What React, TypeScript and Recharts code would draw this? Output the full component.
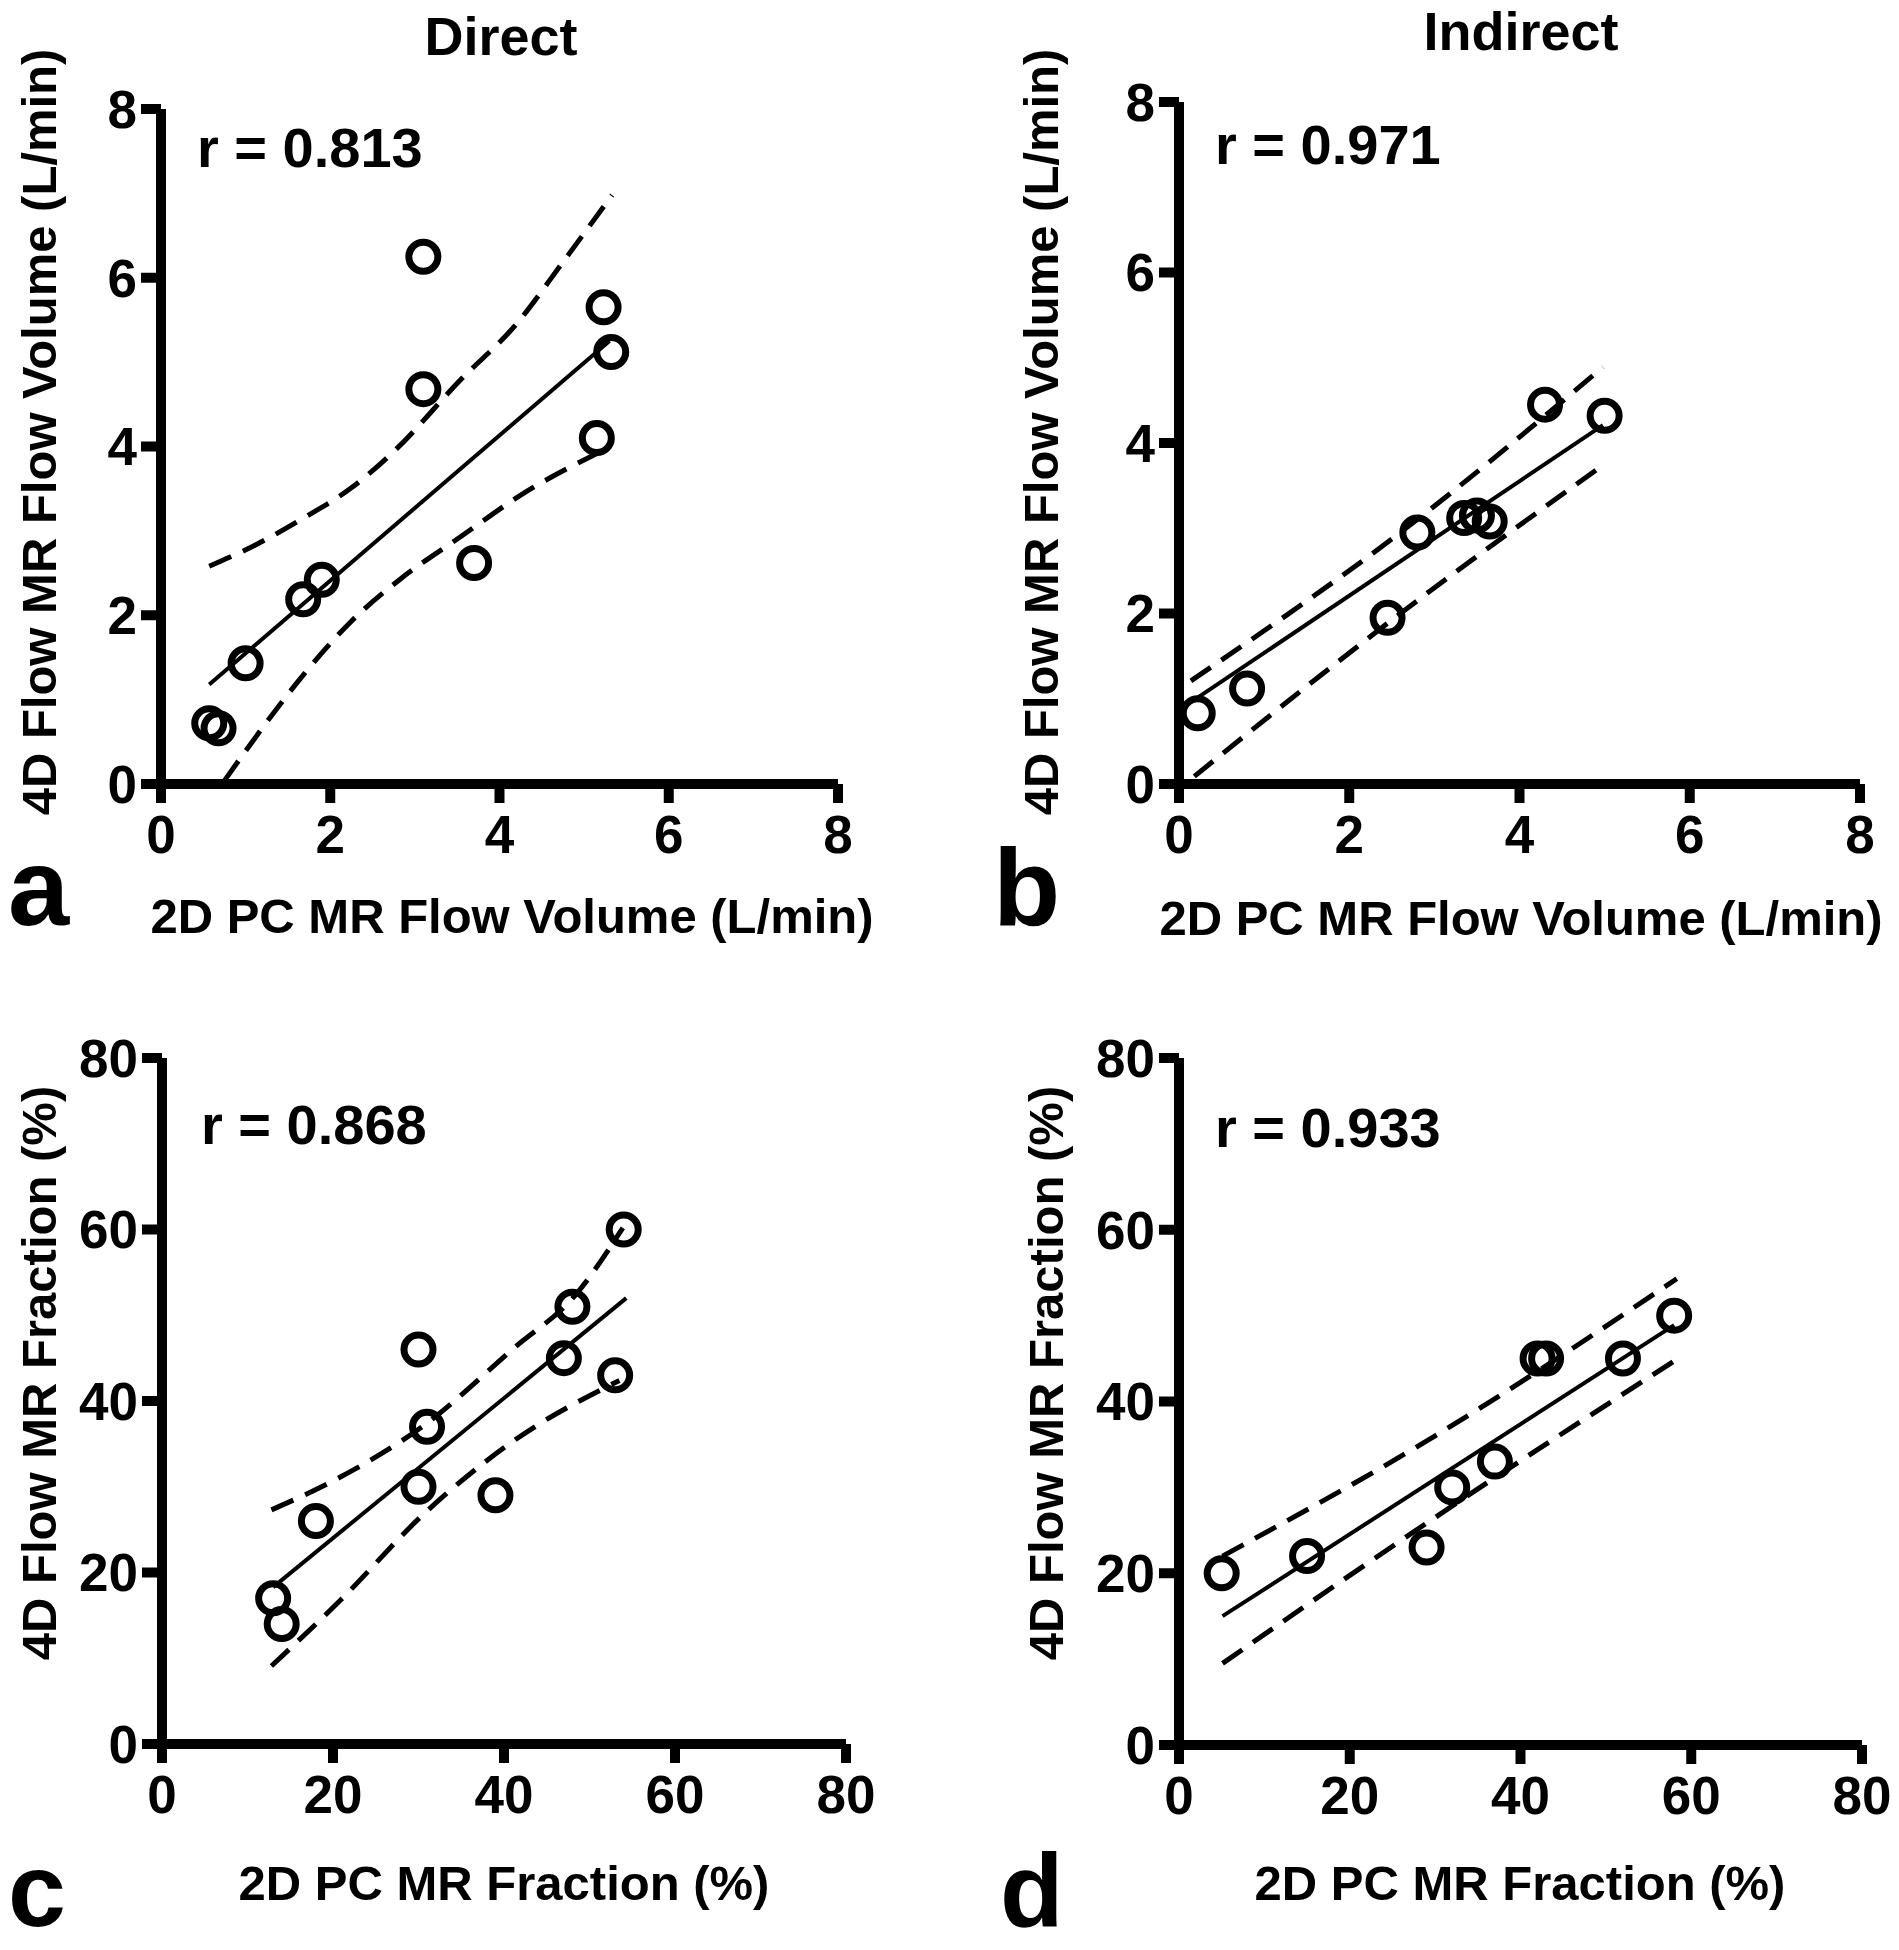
import React from 'react';
import { ComposedChart, Scatter, Line, XAxis, YAxis } from 'recharts';

const FONT = '"Liberation Sans", Arial, Helvetica, sans-serif';
const INK = '#000';

// ---------- Panel a: Direct, flow volume (L/min) ----------
const volDirect2D = [3.1, 5.23, 5.32, 3.1, 5.15, 3.7, 1.9, 1.68, 1.0, 0.57, 0.68];
const volDirect4D = [6.25, 5.65, 5.12, 4.68, 4.1, 2.62, 2.42, 2.19, 1.43, 0.72, 0.66];
const volDirectFitX = [0.57, 5.3];
const volDirectFitY = [1.18, 5.25];
const volDirectUpperX = [0.57, 1.11, 1.68, 2.25, 2.75, 3.54, 4.19, 4.76, 5.33];
const volDirectUpperY = [2.58, 2.83, 3.15, 3.51, 3.94, 4.79, 5.44, 6.2, 6.98];
const volDirectLowerX = [0.75, 1.18, 1.68, 2.25, 2.83, 3.54, 4.26, 5.26];
const volDirectLowerY = [0.04, 0.64, 1.29, 1.93, 2.43, 2.93, 3.43, 3.97];

// ---------- Panel b: Indirect, flow volume (L/min) ----------
const volIndirect2D = [0.22, 0.8, 2.45, 2.8, 3.35, 3.5, 3.65, 4.3, 5.0];
const volIndirect4D = [0.83, 1.12, 1.95, 2.95, 3.12, 3.15, 3.08, 4.45, 4.32];
const volIndirectFitX = [0.11, 4.98];
const volIndirectFitY = [0.94, 4.21];
const volIndirectUpperX = [0.14, 2.6, 4.98];
const volIndirectUpperY = [1.21, 2.95, 4.89];
const volIndirectLowerX = [0.18, 2.6, 4.98];
const volIndirectLowerY = [0.09, 2.0, 3.74];

// ---------- Panel c: Direct, MR fraction (%) ----------
const fracDirect2D = [54, 48, 47, 53, 30, 31, 30, 39, 18, 13, 14];
const fracDirect4D = [60, 51, 45, 43, 46, 37, 30, 29, 26, 17, 14];
const fracDirectFitX = [13, 54.3];
const fracDirectFitY = [18.3, 52];
const fracDirectUpperX = [12.8, 20.8, 30.7, 41.2, 48.3, 53.9];
const fracDirectUpperY = [27.3, 31.1, 37.2, 46.2, 52.3, 60.2];
const fracDirectLowerX = [12.8, 20.8, 30.7, 41.2, 53.5];
const fracDirectLowerY = [9.1, 16.7, 26.9, 35.4, 42.4];

// ---------- Panel d: Indirect, MR fraction (%) ----------
const fracIndirect2D = [5, 15, 29, 32, 37, 42, 43, 52, 58];
const fracIndirect4D = [20, 22, 23, 30, 33, 45, 45, 45, 50];
const fracIndirectFitX = [5.1, 58];
const fracIndirectFitY = [15, 48.9];
const fracIndirectUpperX = [5.1, 30, 58.3];
const fracIndirectUpperY = [22, 36, 54.3];
const fracIndirectLowerX = [5.1, 30, 58.3];
const fracIndirectLowerY = [9.5, 26.5, 44.9];

// ---------- axes / text ----------
const volTicks = [0, 2, 4, 6, 8];
const fracTicks = [0, 20, 40, 60, 80];
const volXLabel = '2D PC MR Flow Volume (L/min)';
const volYLabel = '4D Flow MR Flow Volume (L/min)';
const fracXLabel = '2D PC MR Fraction (%)';
const fracYLabel = '4D Flow MR Fraction (%)';
const titles = ['Direct', 'Indirect'];
const rValues = ['r = 0.813', 'r = 0.971', 'r = 0.868', 'r = 0.933'];
const panelLetters = ['a', 'b', 'c', 'd'];

const zip = (xs: number[], ys: number[]) => xs.map((x, i) => ({ x, y: ys[i] }));

const OpenCircle = (props: any) => {
  const { cx, cy } = props;
  if (cx == null || cy == null) return null;
  return <circle cx={cx} cy={cy} r={14.5} fill="none" stroke={INK} strokeWidth={7} />;
};

const XH = 80;

type Cfg = {
  box: { x: number; y: number; w: number; h: number };
  plot: { l: number; t: number; r: number; b: number };
  domain: [number, number];
  ticks: number[];
  points: { x: number; y: number }[];
  fit: { x: number; y: number }[];
  upper: { x: number; y: number }[];
  lower: { x: number; y: number }[];
  xLabel: string;
  yLabel: string;
  xLab: [number, number];
  yLab: [number, number];
};

const panels: Cfg[] = [
  {
    box: { x: 0, y: 0, w: 950, h: 975 },
    plot: { l: 161, t: 109, r: 838, b: 784 },
    domain: [0, 8],
    ticks: volTicks,
    points: zip(volDirect2D, volDirect4D),
    fit: zip(volDirectFitX, volDirectFitY),
    upper: zip(volDirectUpperX, volDirectUpperY),
    lower: zip(volDirectLowerX, volDirectLowerY),
    xLabel: volXLabel,
    yLabel: volYLabel,
    xLab: [512, 933],
    yLab: [56, 432],
  },
  {
    box: { x: 950, y: 0, w: 949, h: 975 },
    plot: { l: 1179, t: 102, r: 1860, b: 784 },
    domain: [0, 8],
    ticks: volTicks,
    points: zip(volIndirect2D, volIndirect4D),
    fit: zip(volIndirectFitX, volIndirectFitY),
    upper: zip(volIndirectUpperX, volIndirectUpperY),
    lower: zip(volIndirectLowerX, volIndirectLowerY),
    xLabel: volXLabel,
    yLabel: volYLabel,
    xLab: [571, 935],
    yLab: [108, 432],
  },
  {
    box: { x: 0, y: 975, w: 950, h: 975 },
    plot: { l: 162, t: 1058, r: 846, b: 1744 },
    domain: [0, 80],
    ticks: fracTicks,
    points: zip(fracDirect2D, fracDirect4D),
    fit: zip(fracDirectFitX, fracDirectFitY),
    upper: zip(fracDirectUpperX, fracDirectUpperY),
    lower: zip(fracDirectLowerX, fracDirectLowerY),
    xLabel: fracXLabel,
    yLabel: fracYLabel,
    xLab: [504, 925],
    yLab: [56, 398],
  },
  {
    box: { x: 950, y: 975, w: 949, h: 975 },
    plot: { l: 1179, t: 1058, r: 1862, b: 1745 },
    domain: [0, 80],
    ticks: fracTicks,
    points: zip(fracIndirect2D, fracIndirect4D),
    fit: zip(fracIndirectFitX, fracIndirectFitY),
    upper: zip(fracIndirectUpperX, fracIndirectUpperY),
    lower: zip(fracIndirectLowerX, fracIndirectLowerY),
    xLabel: fracXLabel,
    yLabel: fracYLabel,
    xLab: [570, 925],
    yLab: [113, 398],
  },
];

const tickStyle = { fill: INK, fontSize: 53, fontWeight: 700, fontFamily: FONT };
const axisStroke = { stroke: INK, strokeWidth: 10 };

function Panel({ cfg }: { cfg: Cfg }) {
  const { box, plot } = cfg;
  const margin = {
    top: plot.t - box.y,
    right: box.x + box.w - plot.r,
    left: 0,
    bottom: box.y + box.h - plot.b - XH,
  };
  const xLabelFn = () => (
    <text
      x={cfg.xLab[0]}
      y={cfg.xLab[1]}
      textAnchor="middle"
      fontFamily={FONT}
      fontWeight={700}
      fontSize={49}
      fill={INK}
    >
      {cfg.xLabel}
    </text>
  );
  const yLabelFn = () => (
    <text
      transform={`translate(${cfg.yLab[0]},${cfg.yLab[1]}) rotate(-90)`}
      x={0}
      y={0}
      textAnchor="middle"
      fontFamily={FONT}
      fontWeight={700}
      fontSize={49}
      fill={INK}
    >
      {cfg.yLabel}
    </text>
  );
  return (
    <div style={{ position: 'absolute', left: box.x, top: box.y }}>
      <ComposedChart width={box.w} height={box.h} margin={margin}>
        <XAxis
          type="number"
          dataKey="x"
          domain={cfg.domain}
          ticks={cfg.ticks}
          interval={0}
          allowDataOverflow
          height={XH}
          tickSize={19}
          tickMargin={12}
          axisLine={axisStroke}
          tickLine={axisStroke}
          tick={tickStyle}
          label={xLabelFn}
        />
        <YAxis
          type="number"
          dataKey="y"
          domain={cfg.domain}
          ticks={cfg.ticks}
          interval={0}
          allowDataOverflow
          width={plot.l - box.x}
          tickSize={20}
          tickMargin={4}
          axisLine={axisStroke}
          tickLine={axisStroke}
          tick={tickStyle}
          label={yLabelFn}
        />
        <Line
          data={cfg.upper}
          dataKey="y"
          type="monotone"
          stroke={INK}
          strokeWidth={5}
          strokeDasharray="24 13"
          dot={false}
          activeDot={false}
          isAnimationActive={false}
        />
        <Line
          data={cfg.lower}
          dataKey="y"
          type="monotone"
          stroke={INK}
          strokeWidth={5}
          strokeDasharray="24 13"
          dot={false}
          activeDot={false}
          isAnimationActive={false}
        />
        <Line
          data={cfg.fit}
          dataKey="y"
          type="linear"
          stroke={INK}
          strokeWidth={4}
          dot={false}
          activeDot={false}
          isAnimationActive={false}
        />
        <Scatter data={cfg.points} dataKey="y" shape={OpenCircle} isAnimationActive={false} />
      </ComposedChart>
    </div>
  );
}

const rPos: [number, number][] = [
  [197, 167],
  [1215, 164],
  [201, 1144],
  [1215, 1147],
];
const letterPos: [number, number][] = [
  [8, 925],
  [993, 925],
  [8, 1926],
  [1000, 1926],
];
const letterSize = [110, 110, 104, 104];
const titlePos: [number, number][] = [
  [501, 55],
  [1521, 50],
];

export default function App() {
  return (
    <div
      style={{
        position: 'absolute',
        left: 0,
        top: 0,
        width: 1899,
        height: 1950,
        background: '#fff',
        overflow: 'hidden',
      }}
    >
      {panels.map((p, i) => (
        <Panel key={i} cfg={p} />
      ))}
      <svg
        width={1899}
        height={1950}
        style={{ position: 'absolute', left: 0, top: 0, pointerEvents: 'none' }}
      >
        {titles.map((t, i) => (
          <text
            key={t}
            x={titlePos[i][0]}
            y={titlePos[i][1]}
            textAnchor="middle"
            fontFamily={FONT}
            fontWeight={700}
            fontSize={54}
            fill={INK}
          >
            {t}
          </text>
        ))}
        {rValues.map((t, i) => (
          <text
            key={t}
            x={rPos[i][0]}
            y={rPos[i][1]}
            fontFamily={FONT}
            fontWeight={700}
            fontSize={56}
            fill={INK}
          >
            {t}
          </text>
        ))}
        {panelLetters.map((t, i) => (
          <text
            key={t}
            x={letterPos[i][0]}
            y={letterPos[i][1]}
            fontFamily={FONT}
            fontWeight={700}
            fontSize={letterSize[i]}
            fill={INK}
          >
            {t}
          </text>
        ))}
      </svg>
    </div>
  );
}
